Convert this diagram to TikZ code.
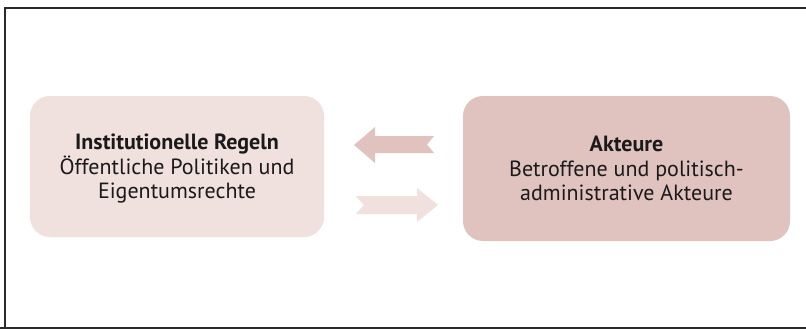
\documentclass[tikz,border=0pt]{standalone}
\usepackage{fontspec}
\setmainfont{PT Sans}
\definecolor{boxlight}{HTML}{F0E0DE}
\definecolor{boxdark}{HTML}{E0C3BF}
\definecolor{txt}{HTML}{1A1A1A}
\definecolor{frame}{HTML}{2A2A2A}
\begin{document}
\begin{tikzpicture}[x=1pt,y=-1pt,
  box/.style={rounded corners=20pt, inner sep=0pt},
  label/.style={align=center, text=txt, inner sep=0pt,
    font=\fontsize{22}{24.5}\selectfont},
  framestyle/.style={draw=frame, line width=2pt}]
\useasboundingbox (0,0) rectangle (806,329);
\fill[white] (0,0) rectangle (806,329);
\draw[framestyle] (4.8,340) -- (4.8,7.8) -- (820,7.8);
\draw[framestyle] (0,328.3) -- (820,328.3);
\node[box, fill=boxlight, minimum width=294pt, minimum height=141pt] (regeln) at (177,166.5) {};
\node[label] (regelntext) at ([yshift=-2.5pt]regeln.center)
  {\textbf{Institutionelle Regeln}\\Öffentliche Politiken und\\Eigentumsrechte};
\node[box, fill=boxdark, minimum width=327pt, minimum height=145pt] (akteure) at (626.5,168.5) {};
\node[label] (akteuretext) at (akteure.center)
  {\textbf{Akteure}\\Betroffene und politisch-\\administrative Akteure};
% arrow from Akteure to Regeln (pointing left)
\fill[boxdark] (354,145) -- (375,127) -- (375,136) -- (434,136) -- (427,144.5)
  -- (434,153) -- (375,153) -- (375,163) -- cycle;
% arrow from Regeln to Akteure (pointing right)
\fill[boxlight] (438,205) -- (417,188) -- (417,196) -- (356,196) -- (364,205)
  -- (356,214) -- (417,214) -- (417,222) -- cycle;
\end{tikzpicture}
\end{document}
